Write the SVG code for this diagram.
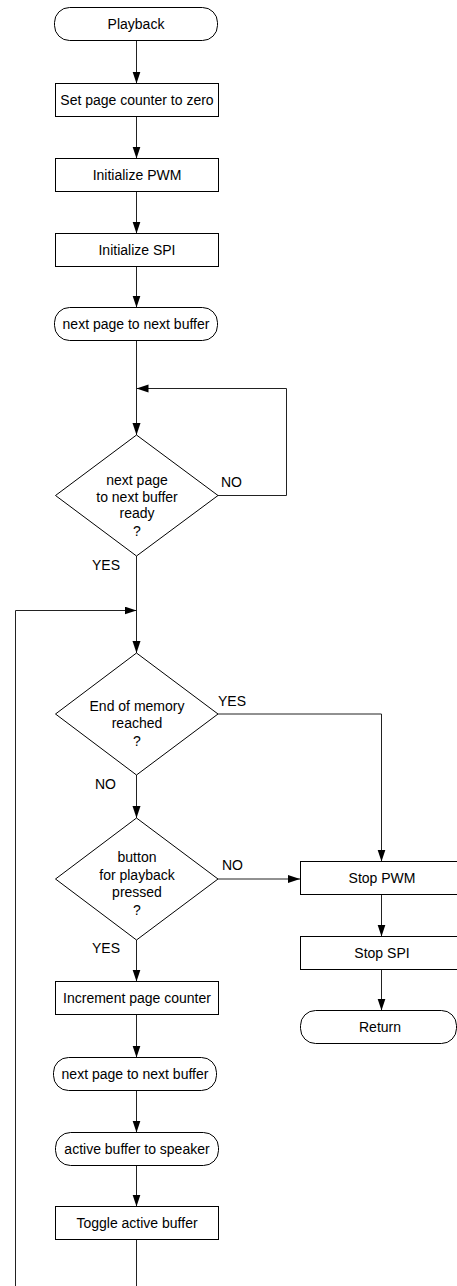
<svg xmlns="http://www.w3.org/2000/svg" width="457" height="1286" viewBox="0 0 457 1286">
<style>
.box{fill:#fff;stroke:#000;stroke-width:1}
.t{font-family:"Liberation Sans",Arial,sans-serif;font-size:14px;fill:#000;text-anchor:middle}
.l{font-family:"Liberation Sans",Arial,sans-serif;font-size:14px;fill:#000}
.c{fill:none;stroke:#222;stroke-width:1}
</style>
<defs>
<marker id="ah" markerUnits="userSpaceOnUse" markerWidth="13" markerHeight="9" refX="12" refY="4" orient="auto">
<path d="M0,0 L12,4 L0,8 z" fill="#000"/>
</marker>
</defs>
<rect width="457" height="1286" fill="#fff"/>
<g id="connectors">
<path class="c" d="M136.5,40.5 V83.5" marker-end="url(#ah)"/>
<path class="c" d="M136.5,116.5 V158.5" marker-end="url(#ah)"/>
<path class="c" d="M136.5,191.5 V233.5" marker-end="url(#ah)"/>
<path class="c" d="M136.5,266.5 V307.5" marker-end="url(#ah)"/>
<path class="c" d="M136.5,340.5 V435" marker-end="url(#ah)"/>
<path class="c" d="M218,495.5 H286.5 V388.5 H136.5" marker-end="url(#ah)"/>
<path class="c" d="M136.5,556 V653" marker-end="url(#ah)"/>
<path class="c" d="M136.5,1239.5 V1300 H15.5 V610.5 H136.5" marker-end="url(#ah)"/>
<path class="c" d="M218,714 H381.5 V861.5" marker-end="url(#ah)"/>
<path class="c" d="M136.5,775 V818" marker-end="url(#ah)"/>
<path class="c" d="M218,879 H300" marker-end="url(#ah)"/>
<path class="c" d="M381.5,894.5 V936.5" marker-end="url(#ah)"/>
<path class="c" d="M381.5,969.5 V1010.5" marker-end="url(#ah)"/>
<path class="c" d="M136.5,940 V981.5" marker-end="url(#ah)"/>
<path class="c" d="M136.5,1014.5 V1057.5" marker-end="url(#ah)"/>
<path class="c" d="M136.5,1090.5 V1132.5" marker-end="url(#ah)"/>
<path class="c" d="M136.5,1165.5 V1206.5" marker-end="url(#ah)"/>
<text class="l" x="221" y="487">NO</text>
<text class="l" x="92" y="570">YES</text>
<text class="l" x="218" y="706">YES</text>
<text class="l" x="95" y="789">NO</text>
<text class="l" x="222" y="870">NO</text>
<text class="l" x="92" y="953">YES</text>
</g>
<g id="playback"><rect class="box" x="54.5" y="7.5" width="163" height="33" rx="15"/><text class="t" x="136" y="29">Playback</text></g>
<g id="setcounter"><rect class="box" x="55.5" y="83.5" width="163" height="33"/><text class="t" x="137" y="105">Set page counter to zero</text></g>
<g id="initpwm"><rect class="box" x="55.5" y="158.5" width="163" height="33"/><text class="t" x="137" y="180">Initialize PWM</text></g>
<g id="initspi"><rect class="box" x="55.5" y="233.5" width="163" height="33"/><text class="t" x="137" y="255">Initialize SPI</text></g>
<g id="nextpage1"><rect class="box" x="54.5" y="307.5" width="163" height="33" rx="15"/><text class="t" x="136" y="329">next page to next buffer</text></g>
<g id="ready"><polygon class="box" points="136.5,435 218,495.5 136.5,556 55.5,495.5"/>
<text class="t" x="137" y="485">next page</text><text class="t" x="137" y="502">to next buffer</text><text class="t" x="137" y="518">ready</text><text class="t" x="137" y="536">?</text></g>
<g id="endmem"><polygon class="box" points="136.5,653 218,714 136.5,775 55.5,714"/>
<text class="t" x="137" y="711">End of memory</text><text class="t" x="137" y="728">reached</text><text class="t" x="137" y="746">?</text></g>
<g id="button"><polygon class="box" points="136.5,818 218,879 136.5,940 55.5,879"/>
<text class="t" x="137" y="862">button</text><text class="t" x="137" y="880">for playback</text><text class="t" x="137" y="897">pressed</text><text class="t" x="137" y="915">?</text></g>
<g id="stoppwm"><rect class="box" x="300.5" y="861.5" width="163" height="33"/><text class="t" x="382" y="883">Stop PWM</text></g>
<g id="stopspi"><rect class="box" x="300.5" y="936.5" width="163" height="33"/><text class="t" x="382" y="958">Stop SPI</text></g>
<g id="return"><rect class="box" x="300.5" y="1010.5" width="156" height="33" rx="15"/><text class="t" x="380" y="1032">Return</text></g>
<g id="increment"><rect class="box" x="55.5" y="981.5" width="163" height="33"/><text class="t" x="137" y="1003">Increment page counter</text></g>
<g id="nextpage2"><rect class="box" x="53.5" y="1057.5" width="163" height="33" rx="15"/><text class="t" x="135" y="1079">next page to next buffer</text></g>
<g id="activebuf"><rect class="box" x="55.5" y="1132.5" width="163" height="33" rx="15"/><text class="t" x="137" y="1154">active buffer to speaker</text></g>
<g id="toggle"><rect class="box" x="55.5" y="1206.5" width="163" height="33"/><text class="t" x="137" y="1228">Toggle active buffer</text></g>
</svg>
